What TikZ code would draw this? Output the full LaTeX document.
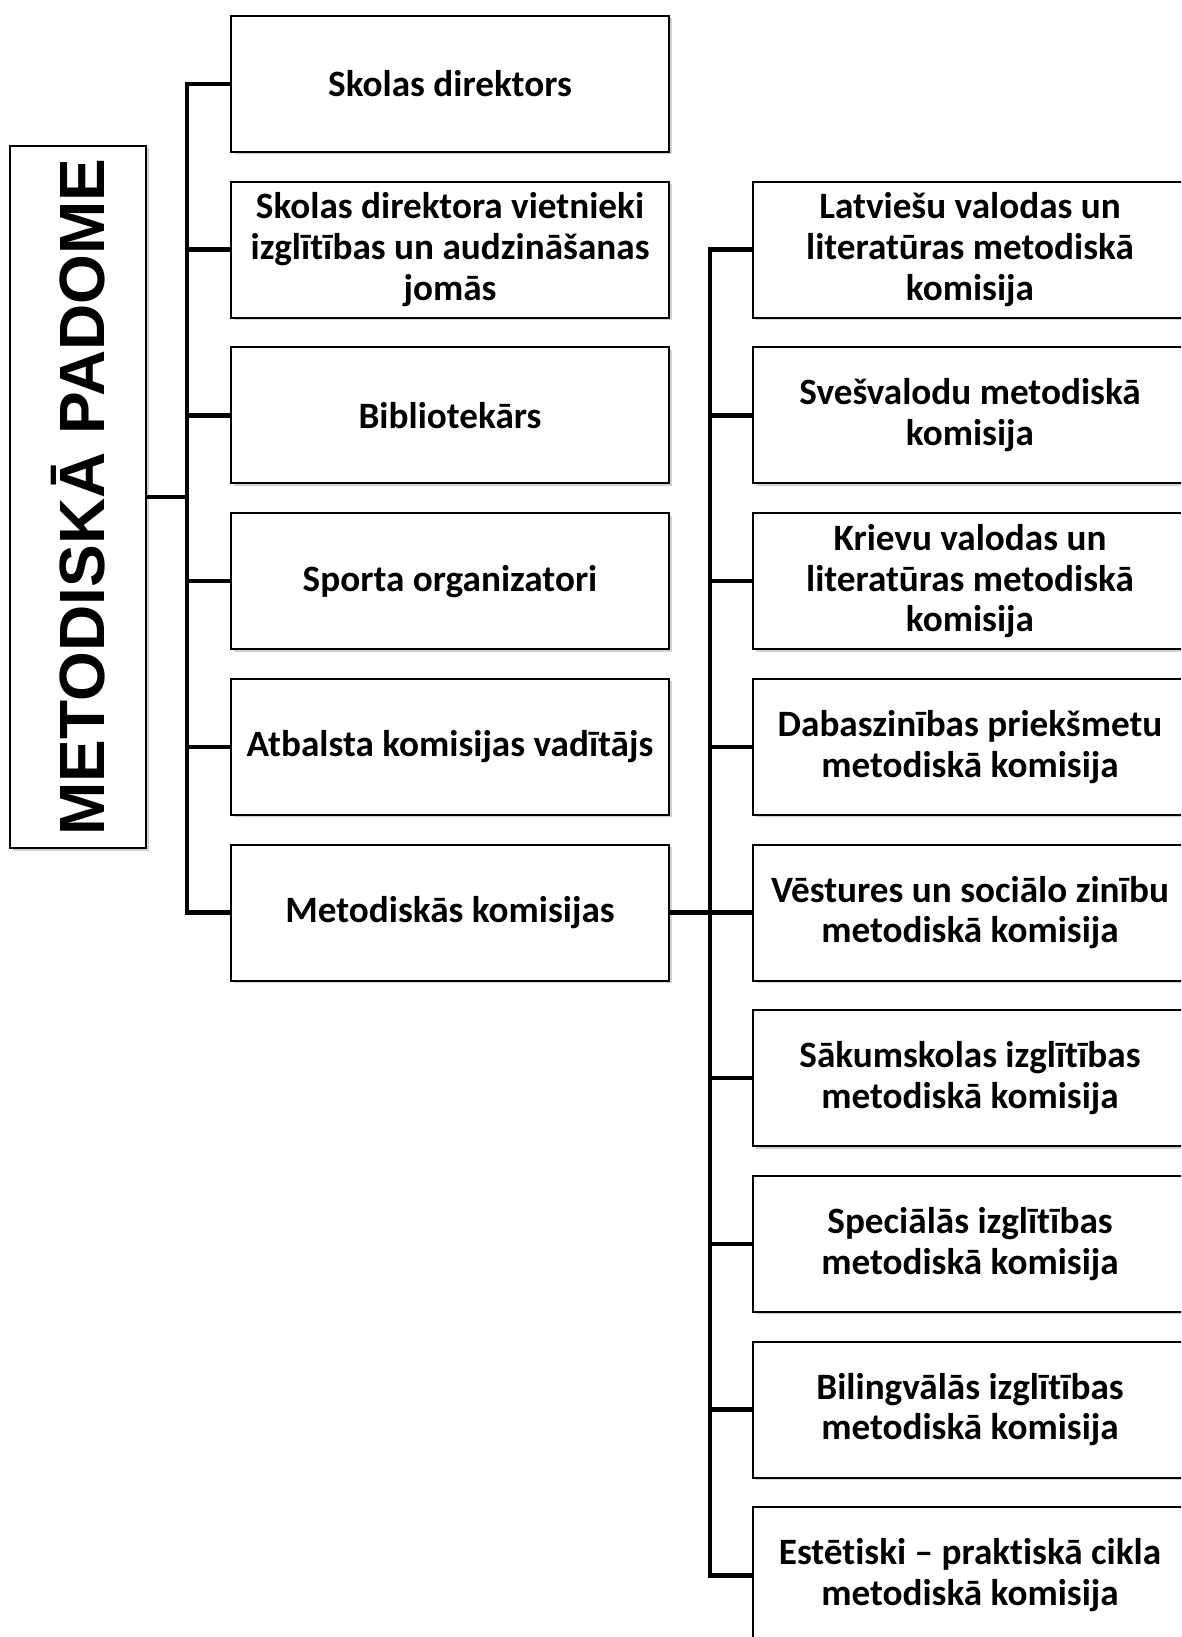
\documentclass[tikz,border=0pt]{standalone}
\usepackage{fontspec}
\setmainfont[Ligatures=CommonOff]{Carlito}
\newfontfamily\bigfont{Liberation Sans}
\usetikzlibrary{shadows}
\begin{document}
\begin{tikzpicture}[x=1pt,y=-1pt,
  box/.style={draw, line width=2pt, fill=white, align=center, anchor=north west,
    font=\bfseries\fontsize{37.2}{40.7}\selectfont, minimum height=136pt, inner sep=0pt,
    drop shadow={shadow xshift=2.5pt, shadow yshift=-2.5pt, fill=black!35}},
  lbox/.style={box, minimum width=438pt},
  rbox/.style={box, minimum width=434pt},
  bus/.style={line width=4.5pt}]
\useasboundingbox (0,0) rectangle (1181,1637);
\clip (0,0) rectangle (1181,1637);
% main vertical box
\node[draw, line width=2pt, fill=white, minimum width=136pt, minimum height=702pt, inner sep=0pt,
  drop shadow={shadow xshift=2.5pt, shadow yshift=-2.5pt, fill=black!35}] (P) at (78,497)
  {\rotatebox{90}{\bigfont\bfseries\fontsize{64}{70}\selectfont METODISKĀ PADOME}};
% left column
\node[lbox] (l1) at (230,15) {Skolas direktors};
\node[lbox] (l2) at (230,180.7) {Skolas direktora vietnieki\\izglītības un audzināšanas\\jomās};
\node[lbox] (l3) at (230,346.4) {Bibliotekārs};
\node[lbox] (l4) at (230,512.1) {Sporta organizatori};
\node[lbox] (l5) at (230,677.8) {Atbalsta komisijas vadītājs};
\node[lbox] (l6) at (230,843.5) {Metodiskās komisijas};
% right column
\node[rbox] (r1) at (752,180.7) {Latviešu valodas un\\literatūras metodiskā\\komisija};
\node[rbox] (r2) at (752,346.4) {Svešvalodu metodiskā\\komisija};
\node[rbox] (r3) at (752,512.1) {Krievu valodas un\\literatūras metodiskā\\komisija};
\node[rbox] (r4) at (752,677.8) {Dabaszinības priekšmetu\\metodiskā komisija};
\node[rbox] (r5) at (752,843.5) {Vēstures un sociālo zinību\\metodiskā komisija};
\node[rbox] (r6) at (752,1009.2) {Sākumskolas izglītības\\metodiskā komisija};
\node[rbox] (r7) at (752,1174.9) {Speciālās izglītības\\metodiskā komisija};
\node[rbox] (r8) at (752,1340.6) {Bilingvālās izglītības\\metodiskā komisija};
\node[rbox] (r9) at (752,1506.3) {Estētiski – praktiskā cikla\\metodiskā komisija};
% bus coordinates
\coordinate (j1) at (187,0);
\coordinate (j2) at (710,0);
% first bus
\draw[bus] (P.east) -- (P.east -| j1);
\draw[bus] (l1.west) -- (l1.west -| j1) -- (l6.west -| j1) -- (l6.west);
\foreach \n in {l2,l3,l4,l5} \draw[bus] (\n.west -| j1) -- (\n.west);
% second bus
\draw[bus] (l6.east) -- (l6.east -| j2);
\draw[bus] (r1.west) -- (r1.west -| j2) -- (r9.west -| j2) -- (r9.west);
\foreach \n in {r2,r3,r4,r5,r6,r7,r8} \draw[bus] (\n.west -| j2) -- (\n.west);
\end{tikzpicture}
\end{document}
